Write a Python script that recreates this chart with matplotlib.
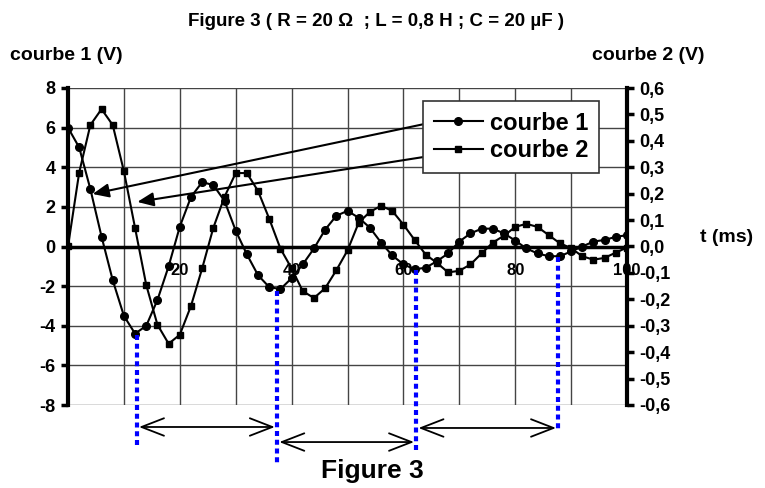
import numpy as np
import matplotlib.pyplot as plt
from matplotlib.ticker import FixedLocator, FuncFormatter

plt.rcParams['font.family'] = ['Liberation Sans', 'DejaVu Sans']
plt.rcParams['font.weight'] = 'bold'
plt.rcParams['axes.unicode_minus'] = False

# temps (ms), un point toutes les 2 ms
t = np.arange(0, 101, 2)

# courbe 1 : tension (V), axe de gauche
courbe1 = [6.0, 5.0, 2.9, 0.5, -1.7, -3.5, -4.4, -4.0, -2.7, -1.0,
           1.0, 2.5, 3.25, 3.1, 2.3, 0.8, -0.4, -1.45, -2.05, -2.15,
           -1.6, -0.9, -0.1, 0.85, 1.55, 1.8, 1.45, 0.95, 0.2, -0.45,
           -0.9, -1.15, -1.07, -0.74, -0.35, 0.25, 0.66, 0.9, 0.9, 0.66,
           0.3, -0.1, -0.35, -0.49, -0.49, -0.25, 0.0, 0.25, 0.33, 0.49,
           0.57]

# courbe 2 : tension (V), axe de droite
courbe2 = [0.0, 0.28, 0.46, 0.52, 0.46, 0.285, 0.07, -0.146, -0.296, -0.368,
           -0.334, -0.225, -0.083, 0.071, 0.188, 0.278, 0.278, 0.21, 0.105, -0.008,
           -0.083, -0.169, -0.195, -0.158, -0.09, -0.015, 0.09, 0.131, 0.154, 0.135,
           0.083, 0.025, -0.031, -0.062, -0.098, -0.092, -0.068, -0.026, 0.015, 0.041,
           0.074, 0.086, 0.074, 0.043, 0.012, -0.006, -0.037, -0.05, -0.043, -0.023,
           -0.004]

# minima de la courbe 1 (pseudo-periode)
t_min = [12.3, 37.4, 62.3, 87.7]
u_min = [-4.45, -2.25, -1.2, -0.55]

x_labels = ['', '', '20', '', '40', '', '60', '', '80', '', '100']
y2_ticks = np.round(np.arange(-0.6, 0.61, 0.1), 1)


def virgule(v, pos):
    if abs(v) < 1e-9:
        v = 0.0
    return f"{v:.1f}".replace('.', ',')


fig = plt.figure(figsize=(7.65, 4.88), dpi=100)
ax = fig.add_axes([68 / 765, 1 - 405 / 488, 559 / 765, 317 / 488])
ax2 = ax.twinx()

ax.set_xlim(0, 100)
ax.set_ylim(-8, 8)
ax2.set_ylim(-0.6, 0.6)

# grille
ax.set_xticks(np.arange(0, 101, 10))
ax.set_xticklabels(x_labels)
ax.set_yticks(np.arange(-8, 9, 2))
ax.grid(True, color='#444444', lw=1.0)
ax.set_axisbelow(True)

# axes
ax.spines['top'].set_visible(False)
ax.spines['right'].set_visible(False)
ax.spines['left'].set_linewidth(3)
ax.spines['bottom'].set_position(('data', 0))
ax.spines['bottom'].set_linewidth(2.5)
for s in ['top', 'left', 'bottom']:
    ax2.spines[s].set_visible(False)
ax2.spines['right'].set_linewidth(3)

ax.tick_params(axis='x', length=0, pad=12, labelsize=12)
ax.tick_params(axis='y', direction='out', length=5, width=2.5, pad=4, labelsize=13)
ax2.yaxis.set_major_locator(FixedLocator(y2_ticks))
ax2.yaxis.set_major_formatter(FuncFormatter(virgule))
ax2.tick_params(axis='y', direction='out', length=5, width=2.5, pad=4, labelsize=13)

# courbes
l1, = ax.plot(t, courbe1, color='black', lw=1.5, marker='o', ms=5.5, label='courbe 1', zorder=3)
l2, = ax2.plot(t, courbe2, color='black', lw=1.5, marker='s', ms=5, label='courbe 2', zorder=3)

leg = ax2.legend(handles=[l1, l2], loc='upper left', bbox_to_anchor=(423 / 765, 1 - 101 / 488),
                 bbox_transform=fig.transFigure, borderaxespad=0, fancybox=False, framealpha=1,
                 edgecolor='#333333', prop={'size': 17, 'weight': 'bold'}, handlelength=2.1,
                 handletextpad=0.3, borderpad=0.45, labelspacing=0.2)
leg.get_frame().set_linewidth(1.2)
leg.set_zorder(5)

# fleches de la legende
ax.annotate('', xy=(4.4, 2.65), xytext=(66.4, 6.34),
            arrowprops=dict(arrowstyle='-|>,head_length=0.7,head_width=0.3', mutation_scale=14,
                            lw=1.5, color='black', shrinkA=0, shrinkB=0), zorder=6)
ax.annotate('', xy=(12.4, 2.25), xytext=(68.2, 4.72),
            arrowprops=dict(arrowstyle='-|>,head_length=0.7,head_width=0.3', mutation_scale=14,
                            lw=1.5, color='black', shrinkA=0, shrinkB=0), zorder=6)

# pseudo-periodes
bottoms = [-10.07, -10.93, -10.32, -9.26]
for tm, um, b in zip(t_min, u_min, bottoms):
    ax.plot([tm, tm], [um, b], color='#0000ff', lw=3, ls=(0, (1.2, 0.9)), clip_on=False, zorder=4)
arrow_y = [-9.11, -9.87, -9.16]
for i in range(3):
    ax.annotate('', xy=(t_min[i + 1] - 0.4, arrow_y[i]), xytext=(t_min[i] + 0.4, arrow_y[i]),
                arrowprops=dict(arrowstyle='<->,head_length=0.9,head_width=0.35', mutation_scale=18,
                                lw=1.3, color='black', shrinkA=0, shrinkB=0),
                annotation_clip=False)

# textes
fig.text(376 / 765, 1 - 22 / 488, 'Figure 3 ( R = 20 Ω  ; L = 0,8 H ; C = 20 µF )',
         ha='center', va='center', fontsize=13.5)
fig.text(10 / 765, 1 - 56 / 488, 'courbe 1 (V)', ha='left', va='center', fontsize=14)
fig.text(592 / 765, 1 - 56 / 488, 'courbe 2 (V)', ha='left', va='center', fontsize=14)
fig.text(700 / 765, 1 - 238 / 488, 't (ms)', ha='left', va='center', fontsize=14)
fig.text(372 / 765, 1 - 478 / 488, 'Figure 3', ha='center', va='baseline', fontsize=19)

fig.savefig('out.png', dpi=100)
